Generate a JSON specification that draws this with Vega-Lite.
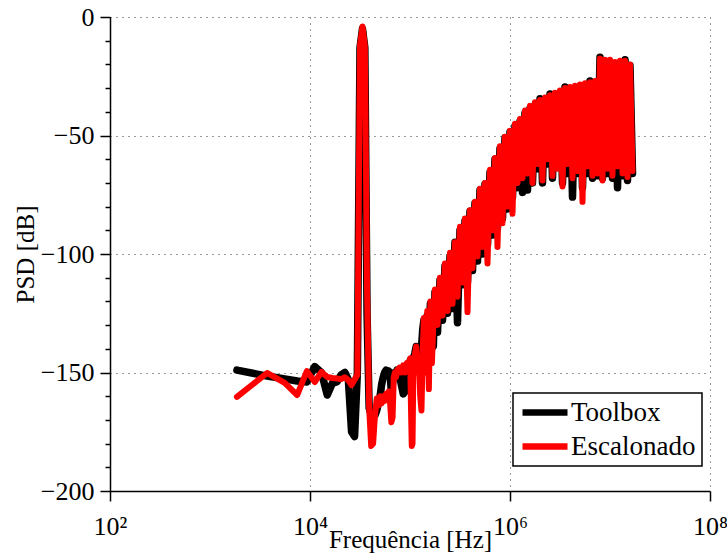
{
  "$schema": "https://vega.github.io/schema/vega-lite/v6.json",
  "width": 600,
  "height": 474,
  "autosize": {"type": "none"},
  "padding": {"left": 110, "top": 17, "right": 17, "bottom": 66},
  "background": "white",
  "config": {
    "view": {"stroke": null},
    "font": "Liberation Serif",
    "legend": {"strokeWidth": 1.5, "labelFont": "Liberation Serif"}
  },
  "data": {"values": [
    {"f":1860,"T":-149,"E":-160.3},
    {"f":3720,"T":-151.5,"E":-150.2},
    {"f":5580,"T":-152.7,"E":-154.4},
    {"f":7440,"T":-153.6,"E":-159.5},
    {"f":9300,"T":-154,"E":-149.4},
    {"f":11160,"T":-147.5,"E":-154},
    {"f":13020,"T":-150,"E":-149.8},
    {"f":14880,"T":-159.5,"E":-151.9},
    {"f":16740,"T":-154.5,"E":-152.3},
    {"f":18600,"T":-154,"E":-152.5},
    {"f":20460,"T":-151,"E":-152.8},
    {"f":22320,"T":-150,"E":-152},
    {"f":24180,"T":-153,"E":-153.2},
    {"f":26040,"T":-175,"E":-155.3},
    {"f":27900,"T":-177,"E":-153},
    {"f":29760,"T":-150,"E":-151},
    {"f":31620,"T":-13,"E":-12},
    {"f":33480,"T":-5,"E":-4},
    {"f":35340,"T":-13,"E":-12},
    {"f":37200,"T":-125,"E":-115},
    {"f":39060,"T":-165,"E":-165},
    {"f":40920,"T":-168,"E":-181},
    {"f":42780,"T":-167,"E":-180},
    {"f":44640,"T":-168,"E":-168},
    {"f":46500,"T":-166,"E":-161},
    {"f":48360,"T":-163,"E":-164},
    {"f":50220,"T":-160,"E":-160},
    {"f":52080,"T":-155,"E":-163},
    {"f":53940,"T":-152,"E":-160},
    {"f":55800,"T":-150,"E":-162},
    {"f":57660,"T":-149,"E":-159},
    {"f":59520,"T":-150,"E":-161},
    {"f":61380,"T":-149.5,"E":-158},
    {"f":63240,"T":-151,"E":-163},
    {"f":65100,"T":-158,"E":-171},
    {"f":66960,"T":-154,"E":-169},
    {"f":68820,"T":-151,"E":-152},
    {"f":70680,"T":-150,"E":-150},
    {"f":72540,"T":-152,"E":-152},
    {"f":74400,"T":-149,"E":-149},
    {"f":78120,"T":-151,"E":-148},
    {"f":81840,"T":-155,"E":-150},
    {"f":85560,"T":-159,"E":-147},
    {"f":89280,"T":-158,"E":-150},
    {"f":93000,"T":-147,"E":-146},
    {"f":96720,"T":-149,"E":-148},
    {"f":100440,"T":-145,"E":-144},
    {"f":102300,"T":-150,"E":-165},
    {"f":104160,"T":-152,"E":-181},
    {"f":106020,"T":-148,"E":-180},
    {"f":107880,"T":-144,"E":-150},
    {"f":111600,"T":-142,"E":-143},
    {"f":115320,"T":-139,"E":-139},
    {"f":119040,"T":-146,"E":-150},
    {"f":122760,"T":-141,"E":-145},
    {"f":126480,"T":-148,"E":-160},
    {"f":130200,"T":-140,"E":-166},
    {"f":133920,"T":-132,"E":-142},
    {"f":137640,"T":-128,"E":-127},
    {"f":141360,"T":-142,"E":-145},
    {"f":145080,"T":-148,"E":-150},
    {"f":148800,"T":-126,"E":-124},
    {"f":154380,"T":-137,"E":-157},
    {"f":159960,"T":-121,"E":-120},
    {"f":165540,"T":-138,"E":-146},
    {"f":171120,"T":-139,"E":-130},
    {"f":177800,"T":-116,"E":-115},
    {"f":188400,"T":-133,"E":-130},
    {"f":199500,"T":-111,"E":-110},
    {"f":211300,"T":-128,"E":-126},
    {"f":223900,"T":-105,"E":-104},
    {"f":237100,"T":-125,"E":-124},
    {"f":251200,"T":-101,"E":-99.5},
    {"f":266100,"T":-123,"E":-121},
    {"f":281800,"T":-95,"E":-95},
    {"f":298500,"T":-129,"E":-118},
    {"f":316200,"T":-90,"E":-88.5},
    {"f":335000,"T":-113,"E":-112},
    {"f":354800,"T":-86,"E":-85},
    {"f":375800,"T":-112,"E":-124.5},
    {"f":398100,"T":-82,"E":-81.5},
    {"f":421700,"T":-107,"E":-106},
    {"f":446700,"T":-78.5,"E":-78},
    {"f":473200,"T":-103,"E":-101},
    {"f":501200,"T":-73,"E":-72.5},
    {"f":530900,"T":-100,"E":-97},
    {"f":562300,"T":-70.5,"E":-70},
    {"f":595700,"T":-96,"E":-104},
    {"f":631000,"T":-65.5,"E":-64.5},
    {"f":668300,"T":-92,"E":-90},
    {"f":707900,"T":-60,"E":-59.5},
    {"f":749900,"T":-89,"E":-97},
    {"f":794300,"T":-55.5,"E":-54.5},
    {"f":841400,"T":-85,"E":-87},
    {"f":891300,"T":-51,"E":-50.5},
    {"f":944100,"T":-81,"E":-80},
    {"f":1000000,"T":-48.5,"E":-48},
    {"f":1059000,"T":-76,"E":-83},
    {"f":1122000,"T":-46,"E":-45},
    {"f":1189000,"T":-72,"E":-70},
    {"f":1259000,"T":-44,"E":-43},
    {"f":1334000,"T":-74,"E":-68},
    {"f":1413000,"T":-40.5,"E":-39.5},
    {"f":1496000,"T":-73,"E":-66},
    {"f":1585000,"T":-38.5,"E":-37.5},
    {"f":1679000,"T":-70,"E":-70},
    {"f":1778000,"T":-37,"E":-36},
    {"f":1884000,"T":-64,"E":-62},
    {"f":1995000,"T":-34.5,"E":-35},
    {"f":2113000,"T":-70,"E":-69},
    {"f":2239000,"T":-35,"E":-34},
    {"f":2371000,"T":-62,"E":-60},
    {"f":2512000,"T":-32.5,"E":-33},
    {"f":2661000,"T":-68,"E":-67},
    {"f":2818000,"T":-33,"E":-32},
    {"f":2985000,"T":-63,"E":-64},
    {"f":3162000,"T":-32,"E":-31},
    {"f":3350000,"T":-70,"E":-71.5},
    {"f":3548000,"T":-29.5,"E":-30},
    {"f":3758000,"T":-66,"E":-62},
    {"f":3981000,"T":-30.5,"E":-29.5},
    {"f":4217000,"T":-76,"E":-68},
    {"f":4467000,"T":-30,"E":-29},
    {"f":4732000,"T":-66,"E":-65},
    {"f":5012000,"T":-29.5,"E":-28.5},
    {"f":5309000,"T":-72,"E":-78},
    {"f":5623000,"T":-29,"E":-28},
    {"f":5957000,"T":-66,"E":-63},
    {"f":6310000,"T":-27,"E":-27.5},
    {"f":6683000,"T":-68,"E":-67},
    {"f":7079000,"T":-28,"E":-27},
    {"f":7499000,"T":-67,"E":-66},
    {"f":7943000,"T":-17,"E":-17.5},
    {"f":8414000,"T":-68,"E":-69},
    {"f":8913000,"T":-19,"E":-18},
    {"f":9441000,"T":-66,"E":-64},
    {"f":10000000,"T":-19,"E":-18},
    {"f":10590000,"T":-68,"E":-67},
    {"f":11220000,"T":-20,"E":-19},
    {"f":11890000,"T":-72,"E":-63},
    {"f":12590000,"T":-19.5,"E":-18.5},
    {"f":13340000,"T":-67,"E":-66},
    {"f":14130000,"T":-18,"E":-18.5},
    {"f":14960000,"T":-69,"E":-67.5},
    {"f":15850000,"T":-20.5,"E":-20},
    {"f":16790000,"T":-66,"E":-65}
  ]},
  "layer": [
    {
      "mark": {"type": "line", "strokeWidth": 7.5, "strokeCap": "round", "strokeJoin": "round"},
      "encoding": {
        "x": {
          "field": "f", "type": "quantitative",
          "scale": {"type": "log", "domain": [100, 100000000]},
          "axis": {
            "values": [100, 10000, 1000000, 100000000],
            "labelExpr": "datum.value == 100 ? '10²' : datum.value == 10000 ? '10⁴' : datum.value == 1000000 ? '10⁶' : '10⁸'",
            "title": "Frequência [Hz]",
            "grid": true, "gridDash": [1, 5], "gridColor": "#333333", "gridWidth": 1,
            "tickSize": 10, "tickColor": "black", "tickWidth": 1.5,
            "domainColor": "black", "domainWidth": 1.5,
            "labelFont": "Liberation Serif", "labelFontSize": 26, "labelColor": "black",
            "labelPadding": 12, "labelFlush": false, "labelOverlap": false,
            "titleFont": "Liberation Serif", "titleFontSize": 25, "titleFontWeight": "normal",
            "titleColor": "black", "titlePadding": -12
          }
        },
        "y": {
          "field": "T", "type": "quantitative",
          "scale": {"domain": [-200, 0], "nice": false, "zero": false},
          "axis": {
            "values": [-200,-190,-180,-170,-160,-150,-140,-130,-120,-110,-100,-90,-80,-70,-60,-50,-40,-30,-20,-10,0],
            "labelExpr": "abs(datum.value / 50 - round(datum.value / 50)) < 0.01 ? datum.label : ''",
            "title": "PSD [dB]",
            "grid": true, "gridDash": [1, 5], "gridColor": "#333333", "gridWidth": 1,
            "gridOpacity": {"condition": {"test": "abs(datum.value / 50 - round(datum.value / 50)) < 0.01", "value": 1}, "value": 0},
            "tickSize": {"condition": {"test": "abs(datum.value / 50 - round(datum.value / 50)) < 0.01", "value": 10}, "value": 5},
            "tickColor": "black", "tickWidth": 1.5,
            "domainColor": "black", "domainWidth": 1.5,
            "labelFont": "Liberation Serif", "labelFontSize": 26, "labelColor": "black",
            "labelPadding": 6, "labelOverlap": false,
            "titleFont": "Liberation Serif", "titleFontSize": 25, "titleFontWeight": "normal",
            "titleColor": "black", "titlePadding": 2
          }
        },
        "color": {
          "datum": "Toolbox", "type": "nominal",
          "scale": {"domain": ["Toolbox", "Escalonado"], "range": ["#000000", "#ff0000"]},
          "legend": {
            "title": null, "orient": "none", "legendX": 403, "legendY": 376,
            "symbolType": "stroke", "symbolSize": 2025, "symbolStrokeWidth": 6.5,
            "labelFont": "Liberation Serif", "labelFontSize": 27, "labelColor": "black",
            "labelOffset": 0, "fillColor": "white", "strokeColor": "black",
            "padding": 6, "rowPadding": 6, "clipHeight": 27
          }
        }
      }
    },
    {
      "mark": {"type": "line", "strokeWidth": 6, "strokeCap": "round", "strokeJoin": "round"},
      "encoding": {
        "x": {
          "field": "f", "type": "quantitative",
          "scale": {"type": "log", "domain": [100, 100000000]},
          "axis": {
            "values": [100, 10000, 1000000, 100000000],
            "labelExpr": "datum.value == 100 ? '10²' : datum.value == 10000 ? '10⁴' : datum.value == 1000000 ? '10⁶' : '10⁸'",
            "title": "Frequência [Hz]",
            "grid": true, "gridDash": [1, 5], "gridColor": "#333333", "gridWidth": 1,
            "tickSize": 10, "tickColor": "black", "tickWidth": 1.5,
            "domainColor": "black", "domainWidth": 1.5,
            "labelFont": "Liberation Serif", "labelFontSize": 26, "labelColor": "black",
            "labelPadding": 12, "labelFlush": false, "labelOverlap": false,
            "titleFont": "Liberation Serif", "titleFontSize": 25, "titleFontWeight": "normal",
            "titleColor": "black", "titlePadding": -12
          }
        },
        "y": {
          "field": "E", "type": "quantitative",
          "scale": {"domain": [-200, 0], "nice": false, "zero": false},
          "axis": {
            "values": [-200,-190,-180,-170,-160,-150,-140,-130,-120,-110,-100,-90,-80,-70,-60,-50,-40,-30,-20,-10,0],
            "labelExpr": "abs(datum.value / 50 - round(datum.value / 50)) < 0.01 ? datum.label : ''",
            "title": "PSD [dB]",
            "grid": true, "gridDash": [1, 5], "gridColor": "#333333", "gridWidth": 1,
            "gridOpacity": {"condition": {"test": "abs(datum.value / 50 - round(datum.value / 50)) < 0.01", "value": 1}, "value": 0},
            "tickSize": {"condition": {"test": "abs(datum.value / 50 - round(datum.value / 50)) < 0.01", "value": 10}, "value": 5},
            "tickColor": "black", "tickWidth": 1.5,
            "domainColor": "black", "domainWidth": 1.5,
            "labelFont": "Liberation Serif", "labelFontSize": 26, "labelColor": "black",
            "labelPadding": 6, "labelOverlap": false,
            "titleFont": "Liberation Serif", "titleFontSize": 25, "titleFontWeight": "normal",
            "titleColor": "black", "titlePadding": 2
          }
        },
        "color": {"datum": "Escalonado", "type": "nominal"}
      }
    }
  ]
}
